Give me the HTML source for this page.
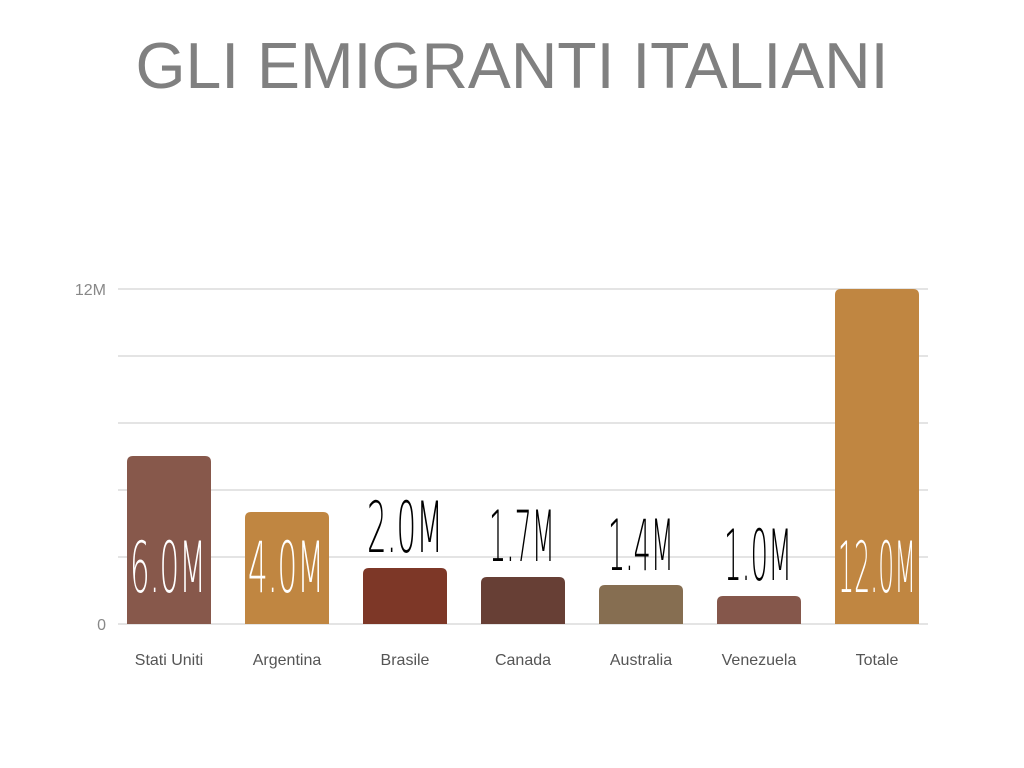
<!DOCTYPE html>
<html><head><meta charset="utf-8"><style>
html,body{margin:0;padding:0;background:#fff;width:1024px;height:768px;overflow:hidden}
</style></head><body>
<svg width="1024" height="768" xmlns="http://www.w3.org/2000/svg">
<text x="512" y="88" text-anchor="middle" font-family="Liberation Sans, sans-serif" font-size="64.5" fill="#808080" textLength="753" lengthAdjust="spacingAndGlyphs">GLI EMIGRANTI ITALIANI</text>
<g stroke="#dcdcdc" stroke-width="1.5">
<line x1="118" y1="289" x2="928" y2="289"/>
<line x1="118" y1="356" x2="928" y2="356"/>
<line x1="118" y1="423" x2="928" y2="423"/>
<line x1="118" y1="490" x2="928" y2="490"/>
<line x1="118" y1="557" x2="928" y2="557"/>
<line x1="118" y1="624" x2="928" y2="624"/>
</g>
<g font-family="Liberation Sans, sans-serif" font-size="16" fill="#888" text-anchor="end">
<text x="106" y="295">12M</text>
<text x="106" y="630">0</text>
</g>
<g>
<path d="M127,624 V462 Q127,456 133,456 H205 Q211,456 211,462 V624 Z" fill="#87584b"/>
<path d="M245,624 V518 Q245,512 251,512 H323 Q329,512 329,518 V624 Z" fill="#c08641"/>
<path d="M363,624 V574 Q363,568 369,568 H441 Q447,568 447,574 V624 Z" fill="#7d3727"/>
<path d="M481,624 V583 Q481,577 487,577 H559 Q565,577 565,583 V624 Z" fill="#673f35"/>
<path d="M599,624 V591 Q599,585 605,585 H677 Q683,585 683,591 V624 Z" fill="#866e51"/>
<path d="M717,624 V602 Q717,596 723,596 H795 Q801,596 801,602 V624 Z" fill="#85574b"/>
<path d="M835,624 V295 Q835,289 841,289 H913 Q919,289 919,295 V624 Z" fill="#c08641"/>
</g>
<g font-family="DejaVu Sans ExtraLight, DejaVu Sans Light, Liberation Sans, sans-serif" font-weight="200" font-size="70">
<text x="130" y="592" textLength="76" lengthAdjust="spacingAndGlyphs" fill="#fff">6.0M</text>
<text x="248" y="592" textLength="76" lengthAdjust="spacingAndGlyphs" fill="#fff">4.0M</text>
<text x="367" y="552" textLength="76" lengthAdjust="spacingAndGlyphs" fill="#000">2.0M</text>
<text x="489" y="561" textLength="66" lengthAdjust="spacingAndGlyphs" fill="#000">1.7M</text>
<text x="608" y="570" textLength="66" lengthAdjust="spacingAndGlyphs" fill="#000">1.4M</text>
<text x="724" y="580" textLength="68" lengthAdjust="spacingAndGlyphs" fill="#000">1.0M</text>
<text x="838" y="592" textLength="78" lengthAdjust="spacingAndGlyphs" fill="#fff">12.0M</text>
</g>
<g font-family="Liberation Sans, sans-serif" font-size="16" fill="#555" text-anchor="middle">
<text x="169" y="665">Stati Uniti</text>
<text x="287" y="665">Argentina</text>
<text x="405" y="665">Brasile</text>
<text x="523" y="665">Canada</text>
<text x="641" y="665">Australia</text>
<text x="759" y="665">Venezuela</text>
<text x="877" y="665">Totale</text>
</g>
</svg>
</body></html>
